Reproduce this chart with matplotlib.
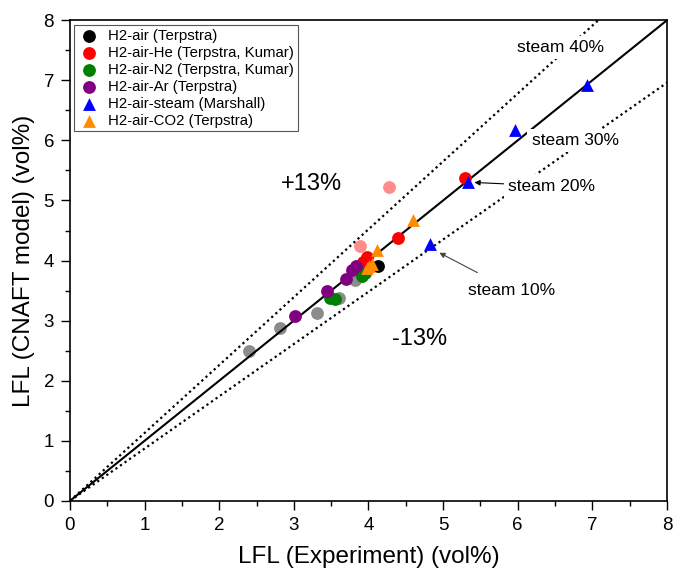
import numpy as np
import matplotlib.pyplot as plt

plt.rcParams['font.family'] = ['Liberation Sans', 'DejaVu Sans']

# data (x = experiment, y = CNAFT model), vol%
air_x = [4.13]
air_y = [3.91]
air_faded_x = [2.40, 2.81, 3.31, 3.61, 3.82]
air_faded_y = [2.49, 2.88, 3.12, 3.38, 3.67]

he_x = [3.93, 3.98, 4.39, 5.30]
he_y = [3.98, 4.06, 4.37, 5.37]
he_faded_x = [3.89, 4.27]
he_faded_y = [4.24, 5.22]

n2_x = [3.49, 3.55, 3.91, 3.95]
n2_y = [3.38, 3.36, 3.74, 3.80]

ar_x = [3.01, 3.45, 3.70, 3.78, 3.83]
ar_y = [3.08, 3.49, 3.70, 3.85, 3.91]

steam_x = [4.83, 5.33, 5.97, 6.93]
steam_y = [4.27, 5.30, 6.17, 6.92]

co2_x = [3.98, 4.01, 4.05, 4.11, 4.60]
co2_y = [3.88, 3.91, 3.95, 4.18, 4.68]

band = 0.13

fig = plt.figure(figsize=(6.73, 5.79), dpi=100)
ax = fig.add_axes([0.104, 0.135, 0.887, 0.830])

# reference lines
xl = np.array([0, 8])
ax.plot(xl, xl, color='black', lw=1.5, zorder=2)
ax.plot(xl, (1 + band) * xl, color='black', lw=1.6, ls=(0, (1, 1.5)), zorder=1)
ax.plot(xl, (1 - band) * xl, color='black', lw=1.6, ls=(0, (1, 1.5)), zorder=1)

ms = 85
ax.scatter(air_faded_x, air_faded_y, s=ms, color='black', alpha=0.45, lw=0, zorder=3)
ax.scatter(he_faded_x, he_faded_y, s=ms, color='red', alpha=0.45, lw=0, zorder=3)
ax.scatter(air_x, air_y, s=ms, color='black', lw=0, zorder=3, label='H2-air (Terpstra)')
ax.scatter(he_x, he_y, s=ms, color='red', lw=0, zorder=4, label='H2-air-He (Terpstra, Kumar)')
ax.scatter(n2_x, n2_y, s=ms, color='green', lw=0, zorder=4, label='H2-air-N2 (Terpstra, Kumar)')
ax.scatter(ar_x, ar_y, s=ms, color='purple', lw=0, zorder=4, label='H2-air-Ar (Terpstra)')
ax.scatter(steam_x, steam_y, s=ms, color='blue', marker='^', lw=0, zorder=5, label='H2-air-steam (Marshall)')
ax.scatter(co2_x, co2_y, s=ms, color='darkorange', marker='^', lw=0, zorder=5, label='H2-air-CO2 (Terpstra)')

# annotations
ax.text(3.23, 5.28, '+13%', fontsize=17, ha='center', va='center')
ax.text(4.69, 2.69, '-13%', fontsize=17, ha='center', va='center')
wbox = dict(facecolor='white', edgecolor='none', pad=3)
ax.text(6.57, 7.55, 'steam 40%', fontsize=12.5, ha='center', va='center', bbox=wbox, zorder=6)
ax.text(6.77, 6.00, 'steam 30%', fontsize=12.5, ha='center', va='center', bbox=wbox, zorder=6)
ax.annotate('steam 20%', xy=(5.42, 5.30), xytext=(6.45, 5.24), fontsize=12.5,
            ha='center', va='center', bbox=wbox, zorder=6,
            arrowprops=dict(arrowstyle='-|>', color='black', lw=0.8, mutation_scale=8,
                            shrinkA=0, shrinkB=0))
ax.annotate('steam 10%', xy=(4.95, 4.13), xytext=(5.92, 3.50), fontsize=12.5,
            ha='center', va='center', zorder=6,
            arrowprops=dict(arrowstyle='-|>', color='#444444', lw=0.8, mutation_scale=8,
                            shrinkA=12, shrinkB=0))

ax.set_xlim(0, 8)
ax.set_ylim(0, 8)
ax.set_xticks(np.arange(0, 9, 1))
ax.set_yticks(np.arange(0, 9, 1))
ax.set_xticks(np.arange(0.5, 8, 1), minor=True)
ax.set_yticks(np.arange(0.5, 8, 1), minor=True)
ax.tick_params(which='major', direction='out', length=6.5, width=1, labelsize=13.5, pad=5)
ax.tick_params(which='minor', direction='out', length=3.3, width=1)
for sp in ax.spines.values():
    sp.set_linewidth(1.2)
ax.set_xlabel('LFL (Experiment) (vol%)', fontsize=17.5, labelpad=9)
ax.set_ylabel('LFL (CNAFT model) (vol%)', fontsize=17.5, labelpad=6)

leg = ax.legend(loc='upper left', fontsize=10.8, frameon=True, fancybox=False,
                edgecolor='#555555', framealpha=1, borderaxespad=0.3,
                handletextpad=0.6, labelspacing=0.2, borderpad=0.25, handlelength=1.4)
leg.get_frame().set_linewidth(0.8)

fig.savefig('out.png', dpi=100)
